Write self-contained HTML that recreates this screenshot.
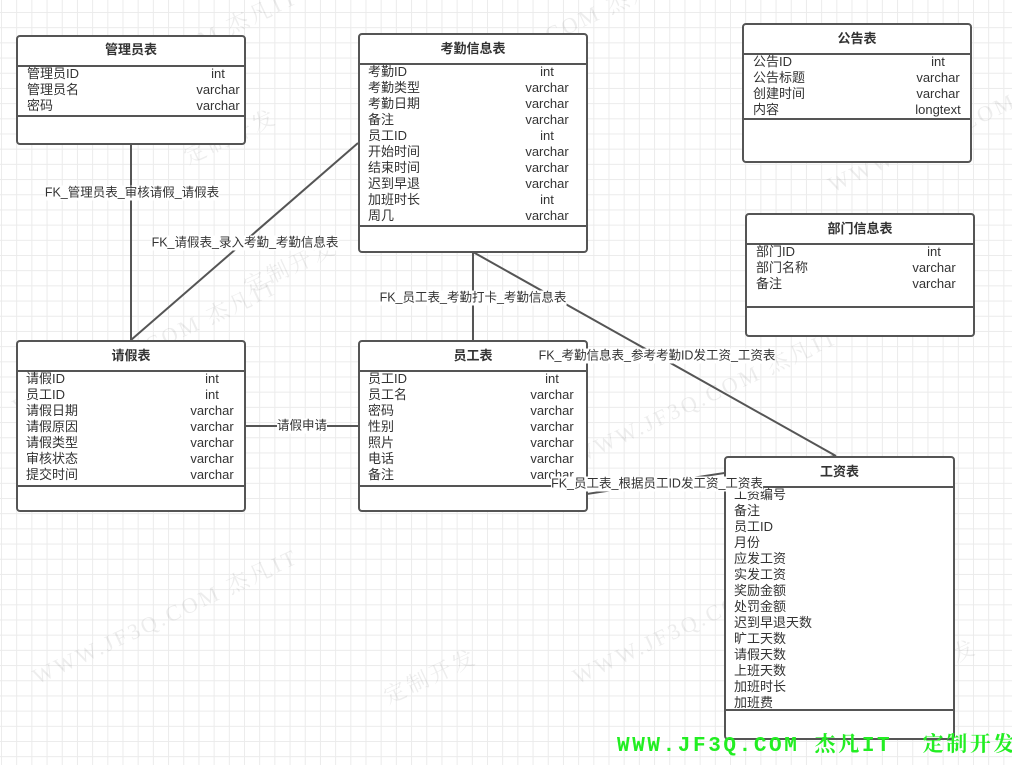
<!DOCTYPE html>
<html><head><meta charset="utf-8"><style>
body{margin:0;width:1012px;height:765px;overflow:hidden;position:relative;background:#fff;
background-image:linear-gradient(#ebebeb 1px,transparent 1px),linear-gradient(90deg,#ebebeb 1px,transparent 1px);
background-size:15.2px 15.2px;background-position:1px 12px;
font-family:"Liberation Sans","Noto Sans CJK SC",sans-serif;color:#333;}
.t{position:absolute;border:2px solid #555;border-radius:4px;background:#fff;box-sizing:border-box;}
.h{position:absolute;left:0;right:0;top:0;text-align:center;font-size:13px;font-weight:bold;border-bottom:2px solid #555;box-sizing:border-box;}
.sep{position:absolute;left:0;right:0;border-top:2px solid #555;}
.r{position:absolute;font-size:13px;line-height:16px;white-space:nowrap;}
.ty{position:absolute;font-size:13px;line-height:16px;white-space:nowrap;transform:translateX(-50%);}
.lbl{position:absolute;font-size:12.5px;background:#fff;white-space:nowrap;transform:translate(-50%,-50%);line-height:15px;}
.wm{position:absolute;color:rgba(0,0,0,0.07);font-size:22px;transform:rotate(-25deg);white-space:nowrap;font-family:"Liberation Serif","Noto Serif CJK SC",serif;letter-spacing:3px}
svg{position:absolute;left:0;top:0}
</style></head><body>
<div class="wm" style="left:20px;top:40px">WWW.JF3Q.COM 杰凡IT</div>
<div class="wm" style="left:180px;top:120px">定制开发</div>
<div class="wm" style="left:0px;top:330px">WWW.JF3Q.COM 杰凡IT</div>
<div class="wm" style="left:240px;top:250px">定制开发</div>
<div class="wm" style="left:400px;top:20px">WWW.JF3Q.COM 杰凡IT</div>
<div class="wm" style="left:560px;top:380px">WWW.JF3Q.COM 杰凡IT</div>
<div class="wm" style="left:820px;top:130px">WWW.JF3Q.COM</div>
<div class="wm" style="left:20px;top:600px">WWW.JF3Q.COM 杰凡IT</div>
<div class="wm" style="left:380px;top:660px">定制开发</div>
<div class="wm" style="left:560px;top:600px">WWW.JF3Q.COM 杰凡IT</div>
<div class="wm" style="left:840px;top:500px">定制开发</div>
<div class="wm" style="left:880px;top:650px">定制开发</div>

<svg width="1012" height="765">
<g stroke="#555" stroke-width="2" fill="none">
<line x1="131" y1="144" x2="131" y2="340"/>
<line x1="358" y1="143" x2="131" y2="340"/>
<line x1="473" y1="252" x2="473" y2="340"/>
<line x1="473" y1="252" x2="836" y2="456"/>
<polyline points="475,511 836,456"/>
<line x1="245" y1="426" x2="358" y2="426"/>
</g></svg>

<div class="t" style="left:16px;top:35px;width:230px;height:110px">
<div class="h" style="height:30px;line-height:26px">管理员表</div>
<div class="sep" style="top:78px"></div>
<div class="r" style="left:9px;top:29px">管理员ID<br>管理员名<br>密码</div>
<div class="ty" style="left:200px;top:29px;text-align:center">int<br>varchar<br>varchar</div>
</div>

<div class="t" style="left:358px;top:33px;width:230px;height:220px">
<div class="h" style="height:30px;line-height:28px">考勤信息表</div>
<div class="sep" style="top:190px"></div>
<div class="r" style="left:8px;top:29px">考勤ID<br>考勤类型<br>考勤日期<br>备注<br>员工ID<br>开始时间<br>结束时间<br>迟到早退<br>加班时长<br>周几</div>
<div class="ty" style="left:187px;top:29px;text-align:center">int<br>varchar<br>varchar<br>varchar<br>int<br>varchar<br>varchar<br>varchar<br>int<br>varchar</div>
</div>

<div class="t" style="left:742px;top:23px;width:230px;height:140px">
<div class="h" style="height:30px;line-height:28px">公告表</div>
<div class="sep" style="top:93px"></div>
<div class="r" style="left:9px;top:29px">公告ID<br>公告标题<br>创建时间<br>内容</div>
<div class="ty" style="left:194px;top:29px;text-align:center">int<br>varchar<br>varchar<br>longtext</div>
</div>

<div class="t" style="left:745px;top:213px;width:230px;height:124px">
<div class="h" style="height:30px;line-height:28px">部门信息表</div>
<div class="sep" style="top:91px"></div>
<div class="r" style="left:9px;top:29px">部门ID<br>部门名称<br>备注</div>
<div class="ty" style="left:187px;top:29px;text-align:center">int<br>varchar<br>varchar</div>
</div>

<div class="t" style="left:16px;top:340px;width:230px;height:172px">
<div class="h" style="height:30px;line-height:28px">请假表</div>
<div class="sep" style="top:143px"></div>
<div class="r" style="left:8px;top:29px">请假ID<br>员工ID<br>请假日期<br>请假原因<br>请假类型<br>审核状态<br>提交时间</div>
<div class="ty" style="left:194px;top:29px;text-align:center">int<br>int<br>varchar<br>varchar<br>varchar<br>varchar<br>varchar</div>
</div>

<div class="t" style="left:358px;top:340px;width:230px;height:172px">
<div class="h" style="height:30px;line-height:28px">员工表</div>
<div class="sep" style="top:143px"></div>
<div class="r" style="left:8px;top:29px">员工ID<br>员工名<br>密码<br>性别<br>照片<br>电话<br>备注</div>
<div class="ty" style="left:192px;top:29px;text-align:center">int<br>varchar<br>varchar<br>varchar<br>varchar<br>varchar<br>varchar</div>
</div>

<div class="t" style="left:724px;top:456px;width:231px;height:284px">
<div class="h" style="height:30px;line-height:28px">工资表</div>
<div class="sep" style="top:251px"></div>
<div class="r" style="left:8px;top:29px">工资编号<br>备注<br>员工ID<br>月份<br>应发工资<br>实发工资<br>奖励金额<br>处罚金额<br>迟到早退天数<br>旷工天数<br>请假天数<br>上班天数<br>加班时长<br>加班费</div>
</div>

<div class="lbl" style="left:132px;top:193px">FK_管理员表_审核请假_请假表</div>
<div class="lbl" style="left:245px;top:243px">FK_请假表_录入考勤_考勤信息表</div>
<div class="lbl" style="left:473px;top:298px">FK_员工表_考勤打卡_考勤信息表</div>
<div class="lbl" style="left:657px;top:356px">FK_考勤信息表_参考考勤ID发工资_工资表</div>
<div class="lbl" style="left:657px;top:484px">FK_员工表_根据员工ID发工资_工资表</div>
<div class="lbl" style="left:302px;top:426px">请假申请</div>

<div style="position:absolute;left:617px;top:734px;font-size:21px;font-weight:bold;letter-spacing:2.6px;color:#22ee22;font-family:'Liberation Mono','Noto Serif CJK SC',monospace;white-space:nowrap;line-height:26px">WWW.JF3Q.COM 杰凡IT&nbsp;&nbsp;定制开发</div>
</body></html>
